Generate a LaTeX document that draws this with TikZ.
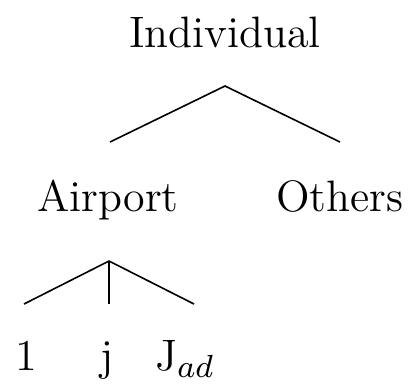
\documentclass[tikz,border=0pt]{standalone}
\usepackage{fontspec}
\begin{document}
\begin{tikzpicture}[x=0.25pt,y=-0.25pt,
  lbl/.style={anchor=base,inner sep=0pt,font=\fontsize{11}{13}\selectfont},
  edge/.style={line width=0.4pt}]
\useasboundingbox (0,0) rectangle (417,390);
% tree labels, placed on their baselines
\node[lbl] (ind) at (225,47) {Individual};
\node[lbl] (air) at (108,211) {Airport};
\node[lbl] (oth) at (340,211) {Others};
\node[lbl] (one) at (26,370) {1};
\node[lbl] (jj) at (107,370) {j};
\node[lbl] (jad) at (185,370) {J$_{ad}$};
% branch points and branch ends
\coordinate (topfork) at (225,86);
\coordinate (airtip) at (110,142);
\coordinate (othtip) at (340,142);
\coordinate (lowfork) at (109,261);
\coordinate (onetip) at (24,304);
\coordinate (jtip) at (109,304);
\coordinate (jadtip) at (194,304);
\draw[edge] (airtip) -- (topfork) -- (othtip);
\draw[edge] (onetip) -- (lowfork) -- (jadtip);
\draw[edge] (lowfork) -- (jtip);
\end{tikzpicture}
\end{document}
